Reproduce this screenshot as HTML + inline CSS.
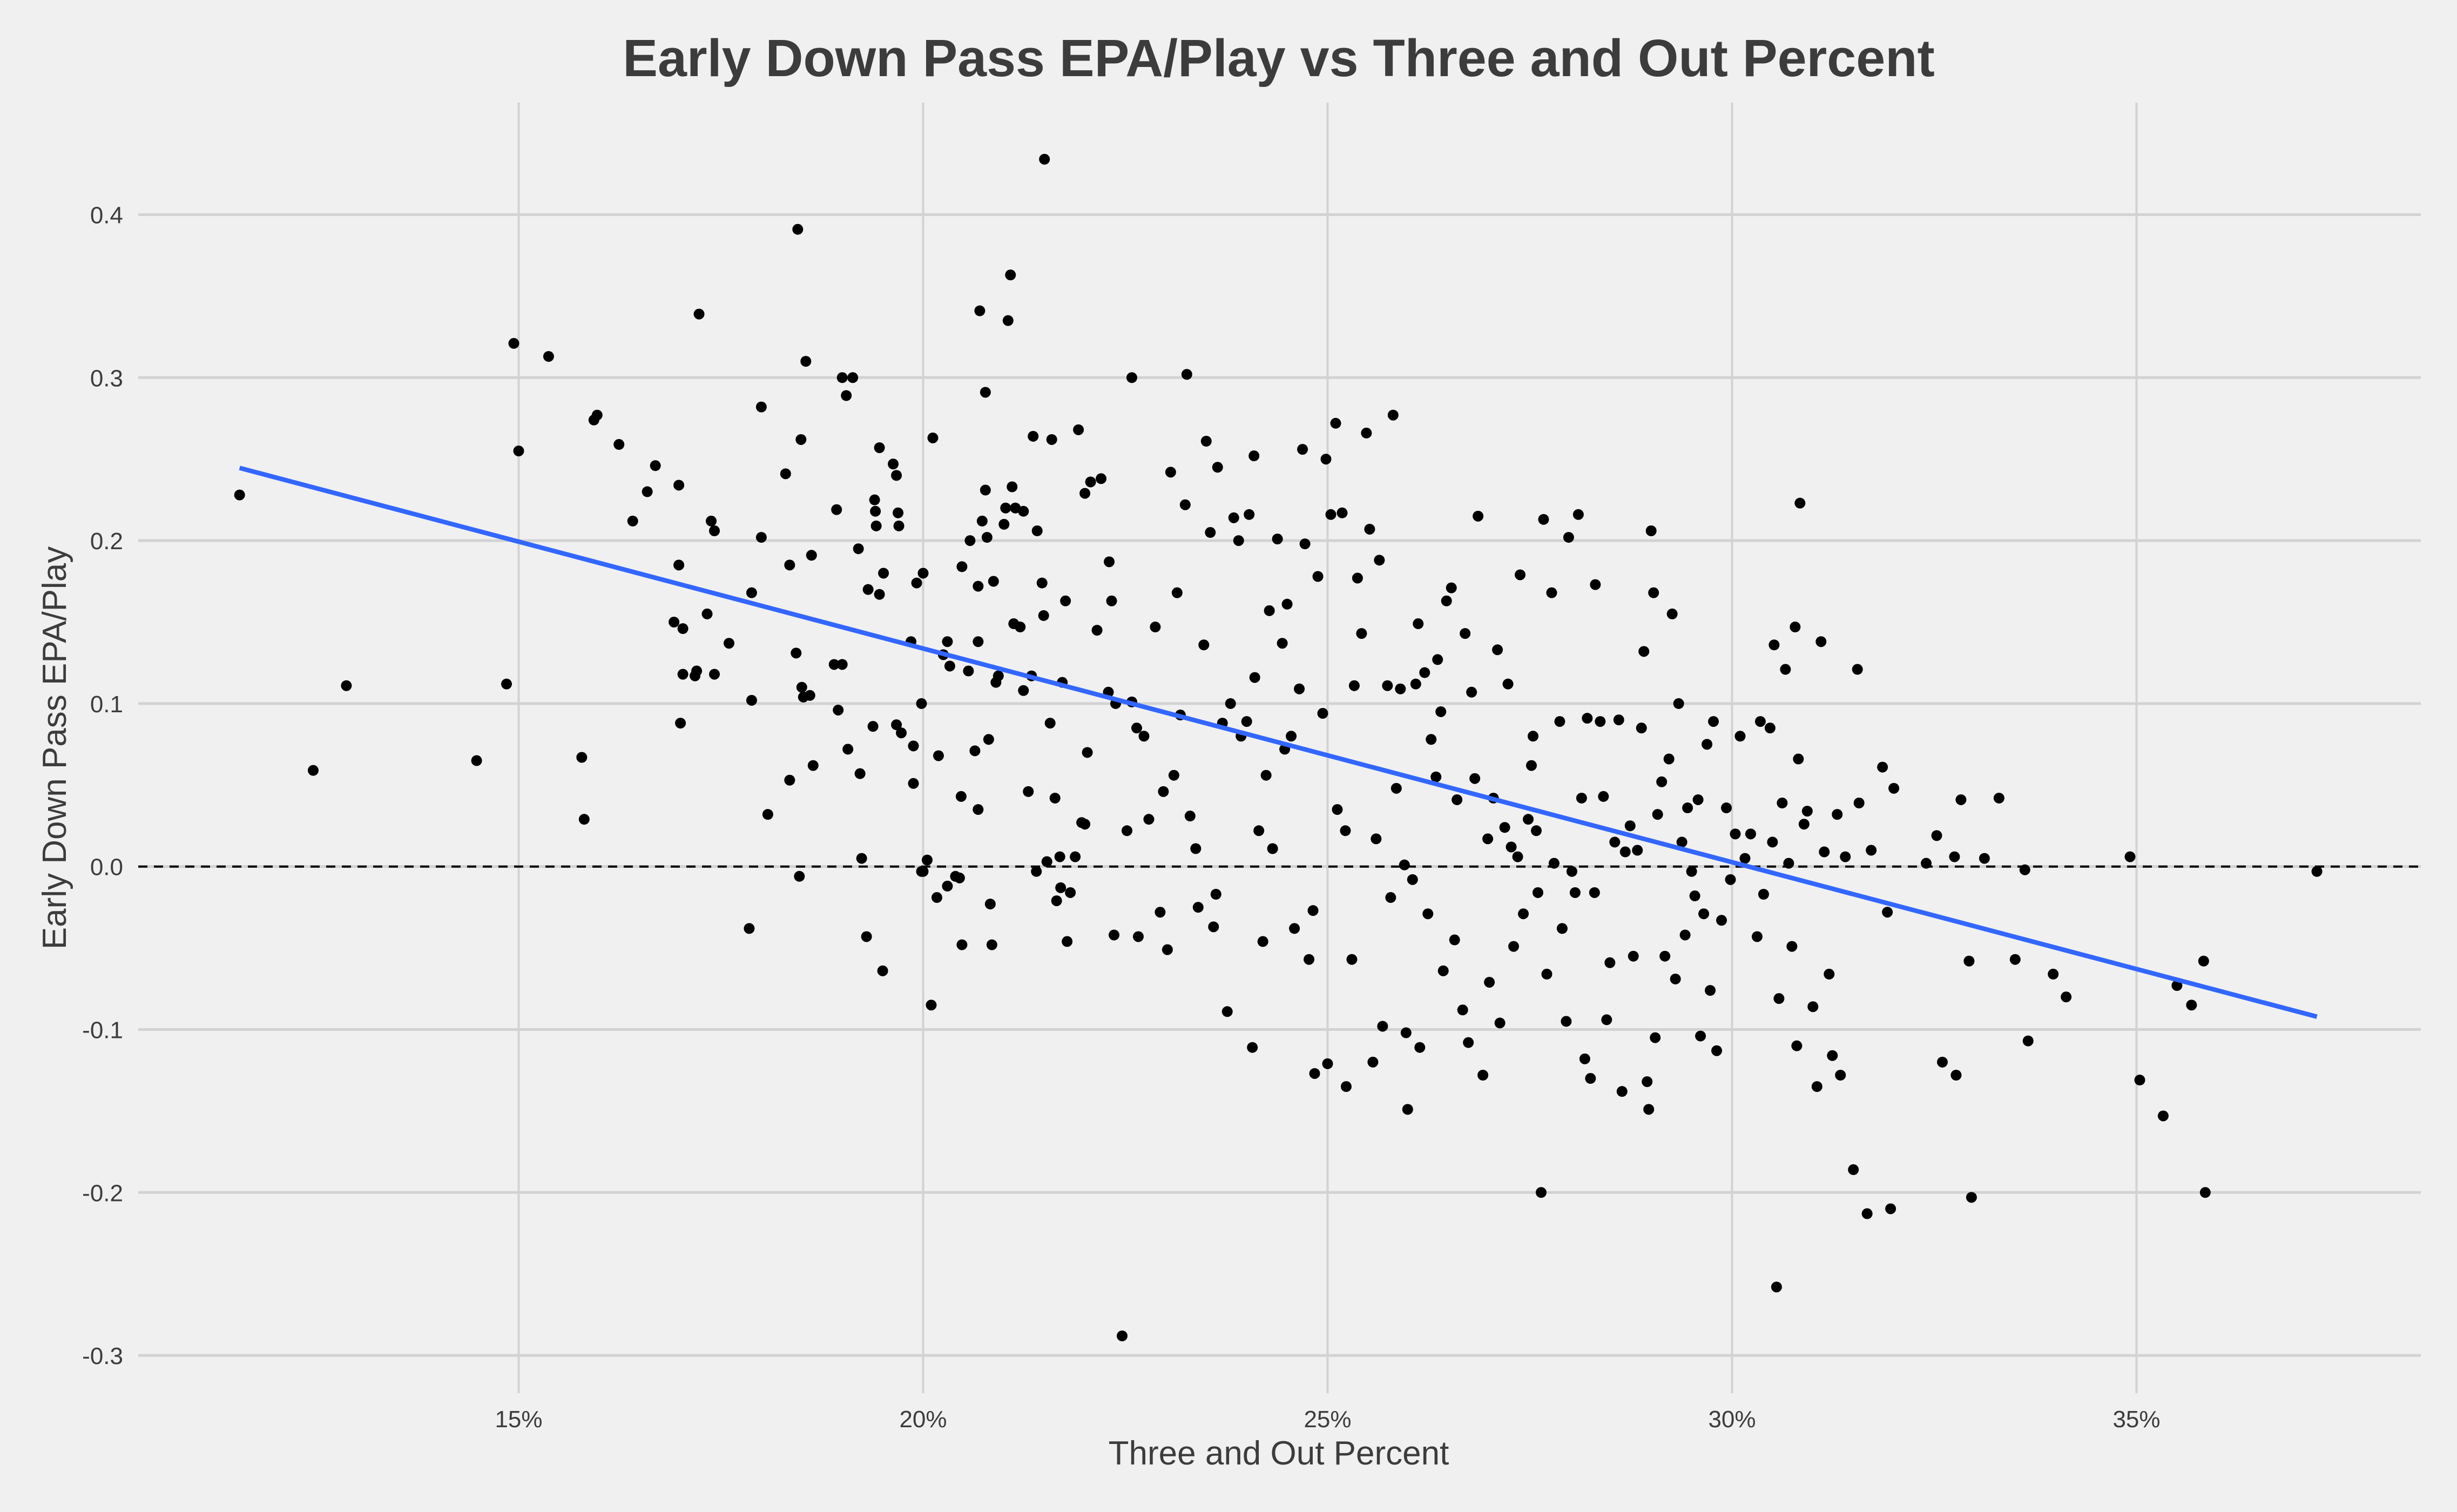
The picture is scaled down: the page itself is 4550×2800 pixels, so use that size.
<!DOCTYPE html>
<html><head><meta charset="utf-8"><style>
html,body{margin:0;padding:0;background:#f0f0f0;}
svg{display:block;font-family:"Liberation Sans",Arial,sans-serif;}
</style></head><body>
<svg id="chart" width="4550" height="2800" viewBox="0 0 4550 2800" xmlns="http://www.w3.org/2000/svg">
<rect x="0" y="0" width="4550" height="2800" fill="#f0f0f0"/>
<g id="grid"></g>
<g id="ticks"></g>
<g id="marks"></g>
<text x="2368" y="141" text-anchor="middle" font-size="97" font-weight="bold" fill="#3c3c3c">Early Down Pass EPA/Play vs Three and Out Percent</text>
<text x="2368" y="2712" text-anchor="middle" font-size="62" fill="#3c3c3c">Three and Out Percent</text>
<text transform="translate(122,1385) rotate(-90)" text-anchor="middle" font-size="62" fill="#3c3c3c">Early Down Pass EPA/Play</text>
</svg>
<script>
const xTicks=[15,20,25,30,35];
const xTickLabels=["15%","20%","25%","30%","35%"];
const yTicks=[-0.3,-0.2,-0.1,0.0,0.1,0.2,0.3,0.4];
const yTickLabels=["-0.3","-0.2","-0.1","0.0","0.1","0.2","0.3","0.4"];
const xVals=[11.55,12.46,12.87,14.48,14.85,14.94,15.0,15.37,15.78,15.81,15.93,15.97,16.24,16.41,16.59,16.69,16.92,16.98,16.98,17.03,17.0,17.03,17.2,17.18,17.23,17.33,17.38,17.42,17.42,17.6,17.85,17.88,17.88,18.0,18.0,18.08,18.3,18.35,18.35,18.43,18.45,18.47,18.49,18.5,18.52,18.55,18.6,18.62,18.64,18.9,18.93,18.95,19.0,19.0,19.05,19.07,19.13,19.2,19.22,19.24,19.3,19.32,19.38,19.4,19.41,19.42,19.46,19.46,19.5,19.51,19.63,19.67,19.67,19.69,19.7,19.73,19.85,19.88,19.88,19.92,19.98,19.98,20.0,20.0,20.05,20.1,20.12,20.17,20.19,20.25,20.3,20.3,20.33,20.4,20.45,20.47,20.48,20.48,20.56,20.58,20.64,20.68,20.68,20.68,20.7,20.73,20.77,20.77,20.79,20.81,20.83,20.85,20.87,20.9,20.93,21.0,21.02,21.05,21.08,21.5,21.1,21.12,21.14,21.2,21.24,21.24,21.3,21.34,21.36,21.4,21.41,21.47,21.49,21.53,21.57,21.59,21.63,21.65,21.69,21.7,21.72,21.76,21.78,21.82,21.88,21.92,21.96,22.0,22.0,22.03,22.07,22.15,22.2,22.29,22.3,22.33,22.36,22.38,22.46,22.52,22.58,22.58,22.64,22.66,22.73,22.79,22.87,22.93,22.97,23.02,23.06,23.1,23.14,23.18,23.24,23.26,23.3,23.37,23.4,23.47,23.5,23.55,23.59,23.62,23.64,23.7,23.76,23.8,23.84,23.9,23.93,24.0,24.03,24.07,24.09,24.1,24.15,24.2,24.24,24.28,24.32,24.38,24.44,24.47,24.5,24.55,24.59,24.65,24.69,24.72,24.77,24.82,24.84,24.88,24.94,24.98,25.0,25.04,25.1,25.12,25.18,25.22,25.23,25.3,25.33,25.37,25.42,25.48,25.52,25.56,25.6,25.64,25.68,25.74,25.78,25.81,25.85,25.9,25.95,25.97,25.99,26.05,26.09,26.12,26.14,26.2,26.24,26.28,26.34,26.36,26.4,26.43,26.47,26.53,26.57,26.6,26.67,26.7,26.74,26.78,26.82,26.86,26.92,26.98,27.0,27.05,27.1,27.13,27.19,27.23,27.27,27.3,27.35,27.38,27.42,27.48,27.52,27.54,27.58,27.6,27.64,27.67,27.71,27.77,27.8,27.87,27.9,27.95,27.98,28.02,28.06,28.1,28.14,28.18,28.21,28.25,28.3,28.31,28.37,28.41,28.45,28.49,28.55,28.6,28.64,28.68,28.74,28.78,28.83,28.88,28.91,28.95,28.97,29.0,29.03,29.05,29.08,29.13,29.17,29.22,29.26,29.3,29.34,29.38,29.42,29.45,29.5,29.54,29.58,29.61,29.65,29.69,29.73,29.77,29.81,29.87,29.93,29.98,30.04,30.1,30.16,30.23,30.31,30.35,30.39,30.47,30.5,30.52,30.55,30.58,30.62,30.66,30.7,30.74,30.78,30.8,30.82,30.84,30.89,30.93,31.0,31.05,31.1,31.14,31.2,31.24,31.3,31.34,31.4,31.5,31.55,31.57,31.67,31.72,31.86,31.92,31.96,32.0,32.4,32.53,32.6,32.75,32.77,32.83,32.93,32.96,33.12,33.3,33.5,33.62,33.66,33.97,34.13,34.92,35.04,35.33,35.5,35.68,35.83,35.85,37.23];
const yVals=[0.228,0.059,0.111,0.065,0.112,0.321,0.255,0.313,0.067,0.029,0.274,0.277,0.259,0.212,0.230,0.246,0.150,0.185,0.234,0.146,0.088,0.118,0.12,0.117,0.339,0.155,0.212,0.206,0.118,0.137,-0.038,0.102,0.168,0.202,0.282,0.032,0.241,0.185,0.053,0.131,0.391,-0.006,0.262,0.11,0.104,0.310,0.105,0.191,0.062,0.124,0.219,0.096,0.124,0.300,0.289,0.072,0.300,0.195,0.057,0.005,-0.043,0.170,0.086,0.225,0.218,0.209,0.257,0.167,-0.064,0.180,0.247,0.24,0.087,0.217,0.209,0.082,0.138,0.074,0.051,0.174,0.1,-0.003,0.18,-0.003,0.004,-0.085,0.263,-0.019,0.068,0.13,0.138,-0.012,0.123,-0.006,-0.007,0.043,0.184,-0.048,0.12,0.2,0.071,0.172,0.138,0.035,0.341,0.212,0.231,0.291,0.202,0.078,-0.023,-0.048,0.175,0.113,0.117,0.21,0.22,0.335,0.363,0.434,0.233,0.149,0.220,0.147,0.218,0.108,0.046,0.117,0.264,-0.003,0.206,0.174,0.154,0.003,0.088,0.262,0.042,-0.021,0.006,-0.013,0.113,0.163,-0.046,-0.016,0.006,0.268,0.027,0.026,0.229,0.07,0.236,0.145,0.238,0.107,0.187,0.163,-0.042,0.1,-0.288,0.022,0.3,0.101,0.085,-0.043,0.08,0.029,0.147,-0.028,0.046,-0.051,0.242,0.056,0.168,0.093,0.222,0.302,0.031,0.011,-0.025,0.136,0.261,0.205,-0.037,-0.017,0.245,0.088,-0.089,0.1,0.214,0.2,0.08,0.089,0.216,-0.111,0.252,0.116,0.022,-0.046,0.056,0.157,0.011,0.201,0.137,0.072,0.161,0.08,-0.038,0.109,0.256,0.198,-0.057,-0.027,-0.127,0.178,0.094,0.25,-0.121,0.216,0.272,0.035,0.217,0.022,-0.135,-0.057,0.111,0.177,0.143,0.266,0.207,-0.12,0.017,0.188,-0.098,0.111,-0.019,0.277,0.048,0.109,0.001,-0.102,-0.149,-0.008,0.112,0.149,-0.111,0.119,-0.029,0.078,0.055,0.127,0.095,-0.064,0.163,0.171,-0.045,0.041,-0.088,0.143,-0.108,0.107,0.054,0.215,-0.128,0.017,-0.071,0.042,0.133,-0.096,0.024,0.112,0.012,-0.049,0.006,0.179,-0.029,0.029,0.062,0.08,0.022,-0.016,-0.2,0.213,-0.066,0.168,0.002,0.089,-0.038,-0.095,0.202,-0.003,-0.016,0.216,0.042,-0.118,0.091,-0.13,-0.016,0.173,0.089,0.043,-0.094,-0.059,0.015,0.09,-0.138,0.009,0.025,-0.055,0.01,0.085,0.132,-0.132,-0.149,0.206,0.168,-0.105,0.032,0.052,-0.055,0.066,0.155,-0.069,0.1,0.015,-0.042,0.036,-0.003,-0.018,0.041,-0.104,-0.029,0.075,-0.076,0.089,-0.113,-0.033,0.036,-0.008,0.02,0.08,0.005,0.02,-0.043,0.089,-0.017,0.085,0.015,0.136,-0.258,-0.081,0.039,0.121,0.002,-0.049,0.147,-0.11,0.066,0.223,0.026,0.034,-0.086,-0.135,0.138,0.009,-0.066,-0.116,0.032,-0.128,0.006,-0.186,0.121,0.039,-0.213,0.01,0.061,-0.028,-0.21,0.048,0.002,0.019,-0.12,0.006,-0.128,0.041,-0.058,-0.203,0.005,0.042,-0.057,-0.002,-0.107,-0.066,-0.08,0.006,-0.131,-0.153,-0.073,-0.085,-0.058,-0.2,-0.003];

const NS="http://www.w3.org/2000/svg";
const PX0=256, PX1=4483, PY0=190, PY1=2580;
function xScale(v){return 960.5+(v-15)*149.8;}
function yScale(v){return 1604.7-v*3018;}
function mk(tag,attrs,parent){const e=document.createElementNS(NS,tag);for(const k in attrs)e.setAttribute(k,attrs[k]);parent.appendChild(e);return e;}
const grid=document.getElementById('grid'), ticks=document.getElementById('ticks'), marks=document.getElementById('marks');
xTicks.forEach((v,i)=>{
  const l=mk('line',{x1:xScale(v),x2:xScale(v),y1:PY0,y2:PY1,stroke:'#d2d2d2','stroke-width':4},grid);
  
  
  const t=mk('text',{x:xScale(v),y:2643,'text-anchor':'middle','font-size':44,fill:'#3c3c3c'},ticks);
  t.textContent=xTickLabels[i];
  
  
});
yTicks.forEach((v,i)=>{
  const l=mk('line',{x1:PX0,x2:PX1,y1:yScale(v),y2:yScale(v),stroke:'#d2d2d2','stroke-width':5},grid);
  
  
  const t=mk('text',{x:228,y:yScale(v)+16,'text-anchor':'end','font-size':44,fill:'#3c3c3c'},ticks);
  t.textContent=yTickLabels[i];
  
  
});
const z=mk('line',{x1:PX0,x2:PX1,y1:yScale(0),y2:yScale(0),stroke:'#000','stroke-width':4,'stroke-dasharray':'17,12'},marks);


xVals.forEach((x,i)=>{
  const c=mk('circle',{cx:xScale(x),cy:yScale(yVals[i]),r:10,fill:'#000'},marks);
  
  
});
// linear fit
const n=xVals.length;let mx=0,my=0;for(let i=0;i<n;i++){mx+=xVals[i];my+=yVals[i];}mx/=n;my/=n;
let sxy=0,sxx=0;for(let i=0;i<n;i++){sxy+=(xVals[i]-mx)*(yVals[i]-my);sxx+=(xVals[i]-mx)**2;}
const b=sxy/sxx,a=my-b*mx;const xmin=Math.min(...xVals),xmax=Math.max(...xVals);
const fl=mk('line',{x1:xScale(xmin),y1:yScale(a+b*xmin),x2:xScale(xmax),y2:yScale(a+b*xmax),stroke:'#3366ff','stroke-width':8.5,'stroke-linecap':'butt'},marks);


</script>
</body></html>
